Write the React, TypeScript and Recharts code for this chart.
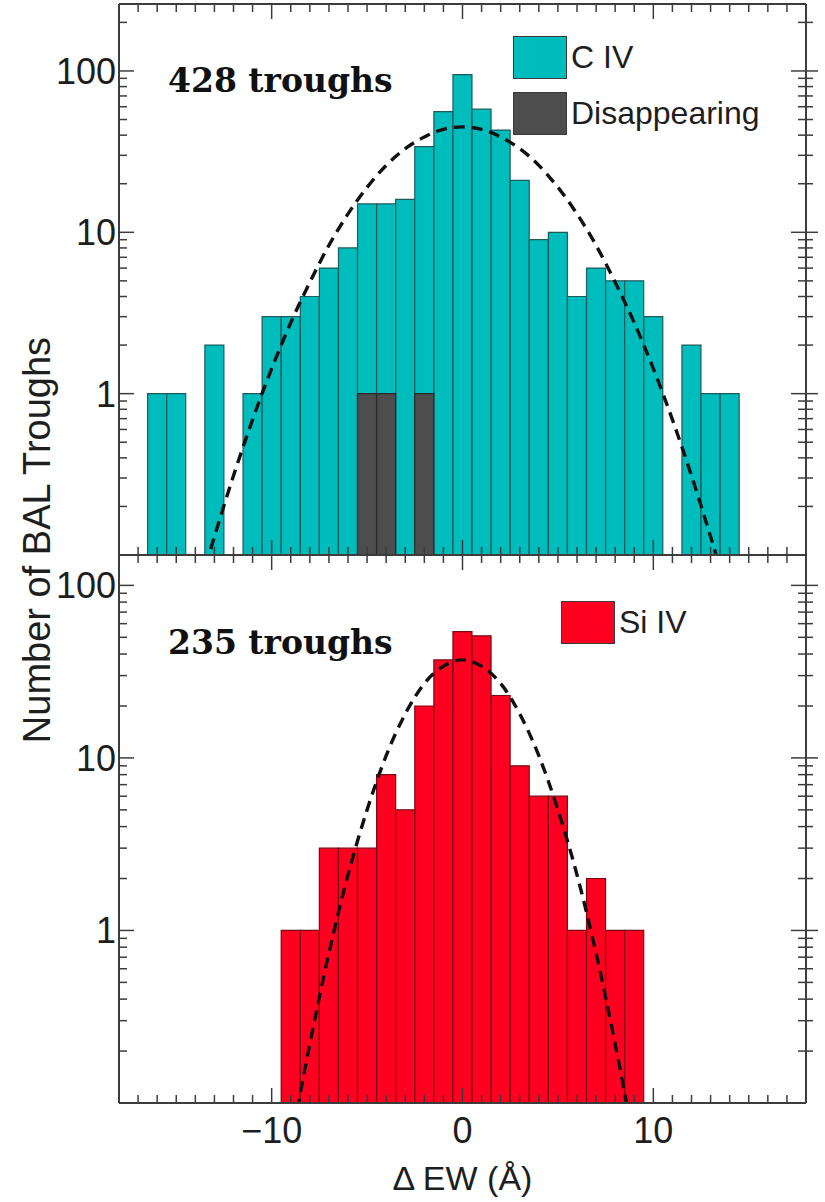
import React from "react";
import { ComposedChart, Bar, Line, XAxis, YAxis, Legend } from "recharts";

// C IV troughs, bins of 1 Å centred on integers
const civBins = [-16, -15, -14, -13, -12, -11, -10, -9, -8, -7, -6, -5, -4, -3, -2, -1, 0, 1, 2, 3, 4, 5, 6, 7, 8, 9, 10, 11, 12, 13, 14];
const civCounts = [1, 1, null, 2, null, 1, 3, 3, 4, 6, 8, 15, 15, 16, 34, 56, 95, 58, 43, 21, 9, 10, 4, 6, 5, 5, 3, null, 2, 1, 1];
const civDisappearing = [null, null, null, null, null, null, null, null, null, null, null, 1, 1, null, 1, null, null, null, null, null, null, null, null, null, null, null, null, null, null, null, null];
// dashed gaussian
const civFitBins = [-14, -13, -12, -11, -10, -9, -8, -7, -6, -5, -4, -3, -2, -1, 0, 1, 2, 3, 4, 5, 6, 7, 8, 9, 10, 11, 12, 13, 14];
const civFit = [0.052, 0.13, 0.31, 0.69, 1.43, 2.75, 4.9, 8.3, 13, 19, 26, 33, 39, 43.5, 45, 43.5, 39, 33, 26, 19, 13, 8.3, 4.9, 2.75, 1.43, 0.69, 0.31, 0.13, 0.052];

// Si IV troughs
const siivBins = [-9, -8, -7, -6, -5, -4, -3, -2, -1, 0, 1, 2, 3, 4, 5, 6, 7, 8, 9];
const siivCounts = [1, 1, 3, 3, 3, 8, 5, 20, 37, 54, 51, 23, 9, 6, 6, 1, 2, 1, 1];
const siivFit = [0.057, 0.22, 0.74, 2.1, 5.0, 10.3, 18, 27, 34, 37, 34, 27, 18, 10.3, 5.0, 2.1, 0.74, 0.22, 0.057];

const xMajorTicks = [-10, 0, 10];
const xTickLabels = ["\u221210", "0", "10"];
const xMinorTicks = [-17, -16, -15, -14, -13, -12, -11, -9, -8, -7, -6, -5, -4, -3, -2, -1, 1, 2, 3, 4, 5, 6, 7, 8, 9, 11, 12, 13, 14, 15, 16, 17];
const yMajorTicks = [1, 10, 100];
const yTickLabels = ["1", "10", "100"];
const yMinorTicks = [0.2, 0.3, 0.4, 0.5, 0.6, 0.7, 0.8, 0.9, 2, 3, 4, 5, 6, 7, 8, 9, 20, 30, 40, 50, 60, 70, 80, 90, 200];

const FONT = "'Liberation Sans', Arial, Helvetica, sans-serif";
const SERIF = "'DejaVu Serif', Georgia, serif";
const INK = "#1e1e1e";
const AXIS = "#3c3c3c";
const TEAL = "#00bdbd";
const DARK = "#4d4d4d";
const RED = "#ff0020";

const xTicks = [...xMajorTicks, ...xMinorTicks].sort((a, b) => a - b);
const yTicksIn = (lo: number, hi: number) =>
  [...yMajorTicks, ...yMinorTicks].filter((v) => v > lo && v < hi).sort((a, b) => a - b);

const civRows = civBins.map((x, i) => {
  const k = civFitBins.indexOf(x);
  return { x, civ: civCounts[i], gone: civDisappearing[i], fit: k >= 0 ? civFit[k] : null };
});
const siivRows = siivBins.map((x, i) => ({ x, siiv: siivCounts[i], fit: siivFit[i] }));

function makeXTick(dir: number, labels: boolean) {
  return (props: any) => {
    const { x, y, payload } = props;
    const k = xMajorTicks.indexOf(payload.value);
    const len = k >= 0 ? 15 : 8;
    return (
      <g>
        <line x1={x} x2={x} y1={y} y2={y + dir * len} stroke={AXIS} strokeWidth={1.5} />
        {labels && k >= 0 && (
          <text x={x} y={y + 40} textAnchor="middle" fontFamily={FONT} fontSize={36} fill={INK}>
            {xTickLabels[k]}
          </text>
        )}
      </g>
    );
  };
}

function makeYTick(side: "left" | "right") {
  return (props: any) => {
    const { x, y, payload } = props;
    const k = yMajorTicks.indexOf(payload.value);
    const len = k >= 0 ? 15 : 8;
    if (side === "right") {
      return (
        <line x1={x - len} x2={x + (k >= 0 ? 12 : 7)} y1={y} y2={y} stroke={AXIS} strokeWidth={1.5} />
      );
    }
    return (
      <g>
        <line x1={x} x2={x + len} y1={y} y2={y} stroke={AXIS} strokeWidth={1.5} />
        {k >= 0 && (
          <text x={x - 3} y={y} dy="0.36em" textAnchor="end" fontFamily={FONT} fontSize={36} fill={INK}>
            {yTickLabels[k]}
          </text>
        )}
      </g>
    );
  };
}

const LegendBoxes = (props: any) => {
  const items = (props.payload || []).filter((p: any) => p.type !== "none");
  return (
    <div>
      {items.map((p: any) => (
        <div key={p.value} style={{ display: "flex", alignItems: "center", height: 56 }}>
          <span
            style={{
              display: "inline-block",
              width: 54,
              height: 43,
              background: p.color,
              border: "1px solid #3a3a3a",
              boxSizing: "border-box",
            }}
          />
          <span style={{ marginLeft: 4, fontFamily: FONT, fontSize: 32, color: INK, lineHeight: 1 }}>
            {p.value}
          </span>
        </div>
      ))}
    </div>
  );
};

const axisLine = { stroke: AXIS, strokeWidth: 2 };

export default function App() {
  const topY = yTicksIn(0.1, 260);
  const botY = yTicksIn(0.1, 150);
  const xAxisCommon = {
    type: "number" as const,
    dataKey: "x",
    domain: [-18, 18],
    allowDataOverflow: true,
    ticks: xTicks,
    interval: 0 as const,
    height: 1,
    tickSize: 0,
    tickMargin: 0,
    tickLine: false,
    axisLine,
  };
  const yAxisCommon = {
    type: "number" as const,
    scale: "log" as const,
    allowDataOverflow: true,
    interval: 0 as const,
    width: 1,
    tickSize: 0,
    tickMargin: 0,
    tickLine: false,
    axisLine,
  };

  return (
    <div style={{ position: "absolute", left: 0, top: 0, width: 825, height: 1202, background: "#fff", overflow: "hidden" }}>
      {/* C IV panel */}
      <div style={{ position: "absolute", left: 0, top: 0 }}>
        <ComposedChart width={825} height={560} data={civRows} margin={{ top: 3, right: 18, bottom: 4, left: 118 }}>
          <XAxis xAxisId="b" orientation="bottom" {...xAxisCommon} tick={makeXTick(-1, false)} />
          <XAxis xAxisId="t" orientation="top" {...xAxisCommon} tick={makeXTick(1, false)} />
          <YAxis yAxisId="l" orientation="left" {...yAxisCommon} domain={[0.1, 260]} ticks={topY} tick={makeYTick("left")} />
          <YAxis yAxisId="r" orientation="right" {...yAxisCommon} domain={[0.1, 260]} ticks={topY} tick={makeYTick("right")} />
          <Bar xAxisId="b" yAxisId="l" dataKey="civ" name="C IV" fill={TEAL} stroke="#1d5a5a" strokeWidth={1.2} barSize={19} isAnimationActive={false} />
          <Bar xAxisId="t" yAxisId="l" dataKey="gone" name="Disappearing" fill={DARK} stroke="#2a2a2a" strokeWidth={1.2} barSize={19} isAnimationActive={false} />
          <Line xAxisId="b" yAxisId="r" dataKey="fit" type="monotone" stroke="#111" strokeWidth={3.4} strokeDasharray="11 7" dot={false} legendType="none" isAnimationActive={false} />
          <Legend layout="vertical" align="center" verticalAlign="middle" content={LegendBoxes} wrapperStyle={{ position: "absolute", top: 29, left: 513, width: "auto" }} />
        </ComposedChart>
      </div>

      {/* Si IV panel */}
      <div style={{ position: "absolute", left: 0, top: 550 }}>
        <ComposedChart width={825} height={652} data={siivRows} margin={{ top: 4, right: 18, bottom: 98, left: 118 }}>
          <XAxis
            xAxisId="b"
            orientation="bottom"
            {...xAxisCommon}
            tick={makeXTick(-1, true)}
            label={{ value: "\u0394 EW (\u00c5)", position: "bottom", offset: 62, fill: INK, style: { fontFamily: FONT, fontSize: 34 } }}
          />
          <XAxis xAxisId="t" orientation="top" {...xAxisCommon} tick={makeXTick(1, false)} />
          <YAxis yAxisId="l" orientation="left" {...yAxisCommon} domain={[0.1, 150]} ticks={botY} tick={makeYTick("left")} />
          <YAxis yAxisId="r" orientation="right" {...yAxisCommon} domain={[0.1, 150]} ticks={botY} tick={makeYTick("right")} />
          <Bar xAxisId="b" yAxisId="l" dataKey="siiv" name="Si IV" fill={RED} stroke="#7a0612" strokeWidth={1.2} barSize={19} isAnimationActive={false} />
          <Line xAxisId="b" yAxisId="r" dataKey="fit" type="monotone" stroke="#111" strokeWidth={3.4} strokeDasharray="11 7" dot={false} legendType="none" isAnimationActive={false} />
          <Legend layout="vertical" align="center" verticalAlign="middle" content={LegendBoxes} wrapperStyle={{ position: "absolute", top: 44, left: 561, width: "auto" }} />
        </ComposedChart>
      </div>

      {/* annotations */}
      <div style={{ position: "absolute", left: 168, top: 64, fontFamily: SERIF, fontWeight: 700, fontSize: 33, lineHeight: 1, color: "#111", whiteSpace: "nowrap" }}>
        428 troughs
      </div>
      <div style={{ position: "absolute", left: 168, top: 626, fontFamily: SERIF, fontWeight: 700, fontSize: 33, lineHeight: 1, color: "#111", whiteSpace: "nowrap" }}>
        235 troughs
      </div>
      <div
        style={{
          position: "absolute",
          left: 37,
          top: 540,
          transform: "translate(-50%, -50%) rotate(-90deg)",
          fontFamily: FONT,
          fontSize: 38,
          color: INK,
          whiteSpace: "nowrap",
          lineHeight: 1,
        }}
      >
        Number of BAL Troughs
      </div>
    </div>
  );
}
